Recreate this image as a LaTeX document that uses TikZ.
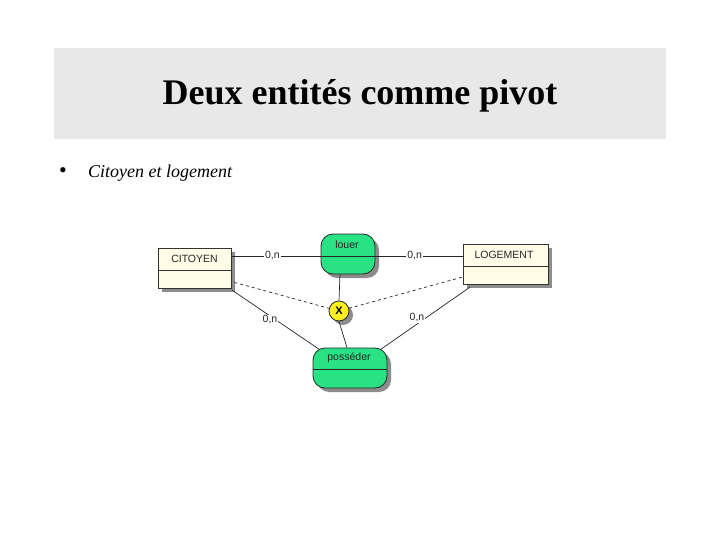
\documentclass[tikz,border=0pt]{standalone}
\usepackage{fontspec}
\setmainfont{Liberation Serif}
\newfontfamily\diagfont{Liberation Sans}
\usetikzlibrary{shadows,calc}
\definecolor{banner}{RGB}{232,232,232}
\definecolor{entfill}{RGB}{255,252,232}
\definecolor{relfill}{RGB}{40,226,132}
\definecolor{xfill}{RGB}{255,240,30}
\tikzset{
  shd/.style={drop shadow={shadow xshift=4pt,shadow yshift=-4pt,fill=black!45,opacity=1}},
  entity/.style={draw=black!80,fill=entfill,line width=0.8pt,shd,inner sep=0pt},
  relation/.style={draw=black!85,fill=relfill,line width=0.8pt,rounded corners=12pt,shd,inner sep=0pt},
  xnode/.style={circle,draw=black!85,fill=xfill,line width=0.8pt,minimum size=20pt,inner sep=0pt,shd,font=\diagfont\fontsize{11}{12}\selectfont\bfseries},
  lbl/.style={font=\diagfont\fontsize{10.5}{12}\selectfont,text=black!85},
  card/.style={lbl,fill=white,inner sep=1pt},
  conn/.style={draw=black!85,line width=0.7pt},
  dconn/.style={conn,dashed,dash pattern=on 3pt off 3pt}
}
\begin{document}
\begin{tikzpicture}[x=1pt,y=-1pt]
\useasboundingbox (0,0) rectangle (720,540);
\fill[white] (0,0) rectangle (720,540);
% banner
\fill[banner] (54,48) rectangle (666,139);
\node[font=\fontsize{36}{40}\selectfont\bfseries] (title) at (360,96) {Deux entités comme pivot};
\node[font=\fontsize{22}{24}\selectfont] (bul) at (63,173) {•};
\node[font=\fontsize{18}{20}\selectfont\itshape,anchor=west,inner sep=0pt] (sub) at (88,173) {Citoyen et logement};
% entities
\node[entity,minimum width=73pt,minimum height=40pt] (cit) at (194.5,268) {};
\draw[black!80,line width=0.6pt] (cit.west |- 0,270) -- (cit.east |- 0,270);
\node[lbl] (citt) at (194.5,259) {CITOYEN};
\node[entity,minimum width=85pt,minimum height=40pt] (log) at (505.5,264) {};
\draw[black!80,line width=0.6pt] (log.west |- 0,266) -- (log.east |- 0,266);
\node[lbl] (logt) at (504,255) {LOGEMENT};
% relations
\node[relation,minimum width=54pt,minimum height=40pt] (louer) at (348,254) {};
\draw[black!85,line width=0.6pt] (louer.west |- 0,256) -- (louer.east |- 0,256);
\node[lbl] (louert) at (347,245) {louer};
\node[relation,minimum width=74pt,minimum height=40pt] (pos) at (350,368) {};
\draw[black!85,line width=0.6pt] (pos.west |- 0,369) -- (pos.east |- 0,369);
\node[lbl] (post) at (349,358) {posséder};
% connectors
\draw[conn] (cit.east |- 0,256) -- node[card,pos=0.46] {0,n} (louer.west |- 0,256);
\draw[conn] (louer.east |- 0,256) -- node[card,pos=0.45] {0,n} (log.west |- 0,256);
\draw[conn] ($(cit.south east)+(1,2)$) -- ($(pos.north west)+(7,2)$);
\node[card] (c3) at (270,320) {0,n};
\draw[conn] ($(log.south west)+(7,3)$) -- ($(pos.north east)+(-7,2)$);
\node[card] (c4) at (417,318) {0,n};
\node[xnode] (x) at (339,311) {X};
\draw[conn] (louer.south -| 340,0) -- (x.north);
\draw[conn] (x.south) -- ($(pos.north)+(-3,0)$);
\draw[dconn] ($(cit.south east)+(3,-6)$) -- (x.165);
\draw[dconn] (x.15) -- ($(log.west)+(0,13)$);
\end{tikzpicture}
\end{document}
